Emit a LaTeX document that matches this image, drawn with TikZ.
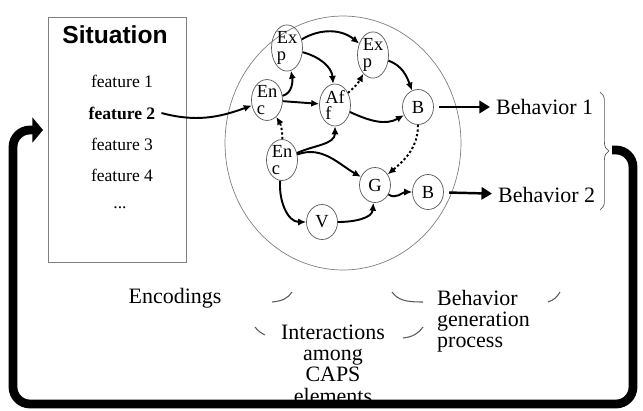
\documentclass[tikz,border=0pt]{standalone}
\usepackage{fontspec}
\setmainfont{Liberation Serif}
\setsansfont{Liberation Sans}
\usetikzlibrary{arrows.meta,shapes.geometric,decorations.pathreplacing}

\begin{document}
\begin{tikzpicture}[x=0.02cm, y=-0.02cm,
    elem/.style={draw, ellipse, gray!70!black, text=black, minimum width=0.62cm,
      minimum height=0.7cm, inner sep=0pt, align=left,
      font=\fontsize{10.5}{9.5}\selectfont},
    link/.style={-{Latex[length=4.5pt,width=4pt]}, line width=1.1pt},
    weak/.style={link, dash pattern=on 1.3pt off 1.3pt},
    bigarrow/.style={-{Triangle[length=6pt,width=7pt]}, line width=1.4pt, shorten <=3pt},
    feedback/.style={-{Triangle[length=6pt,width=14pt]}, line width=5pt},
    feat/.style={font=\fontsize{10}{12}\selectfont},
    lbl/.style={font=\fontsize{12.5}{12}\selectfont, align=center},
    bit/.style={gray!70!black, line width=0.6pt}]
  \useasboundingbox (0,0) rectangle (643,410);

  % situation and its features
  \node[draw, gray, minimum width=2.76cm, minimum height=4.9cm] (sit) at (117,139.5) {};
  \node[font=\sffamily\bfseries\fontsize{14}{14}\selectfont] (title) at (115,35) {Situation};
  \node[feat] (f1) at (122,81) {feature 1};
  \node[feat, font=\bfseries\fontsize{10}{12}\selectfont] (f2) at (122,113) {feature 2};
  \node[feat] (f3) at (122,144) {feature 3};
  \node[feat] (f4) at (122,175) {feature 4};
  \node[feat] (f5) at (120,208) {...};

  % CAPS
  \node[draw, gray, ellipse, minimum width=4.72cm, minimum height=5.08cm] (caps) at (343,143) {};
  \node[elem] (exp1) at (287,48) {Ex\\p};
  \node[elem] (exp2) at (373,55) {Ex\\p};
  \node[elem] (enc1) at (267,100) {En\\c};
  \node[elem] (aff) at (335,105) {Af\\f};
  \node[elem] (b1) at (418,107) {B};
  \node[elem] (enc2) at (282,160) {En\\c};
  \node[elem] (g) at (375,185) {G};
  \node[elem] (b2) at (428,192) {B};
  \node[elem] (v) at (322,222) {V};

  \draw[link] (f2.east) to[out=-15, in=200] (enc1);
  \draw[link] (enc1) to[out=15, in=-80] (exp1);
  \draw[link] (exp1) to[bend left=35] (exp2);
  \draw[link] (exp1) to[out=-15, in=95] (aff);
  \draw[link] (enc1) -- (aff);
  \draw[weak] (aff) to[bend right=10] (exp2);
  \draw[link] (exp2) to[out=-20, in=110] (b1);
  \draw[link] (aff) to[out=-25, in=-150] (b1);
  \draw[weak] (enc2) to[bend right=15] (enc1);
  \draw[link] (enc2) to[out=25, in=-90] (aff);
  \draw[link] (enc2) to[out=20, in=150] (g);
  \draw[link] (enc2) to[out=-95, in=180] (v);
  \draw[link] (v) to[out=0, in=-95] (g);
  \draw[weak] (b1) to[out=-90, in=40] (g);
  \draw[link] (g) to[out=-35, in=180] (b2);

  % behaviors
  \node[lbl, anchor=west] (beh1) at (490,107) {Behavior 1};
  \node[lbl, anchor=west] (beh2) at (492,195) {Behavior 2};
  \draw[bigarrow] (b1) -- (beh1);
  \draw[bigarrow] (b2) -- (beh2);
  \draw[gray!70!black, decorate, decoration={brace, amplitude=5pt}] (600,92) -- (600,210);

  % feedback loop
  \coordinate (fb) at (612,150);
  \coordinate (fbend) at (43,130);
  \draw[feedback, rounded corners=0.34cm] (fb) -| (633,404) -| (13,130) -- (fbend);

  % bottom labels
  \node[lbl] (enc) at (175,298) {Encodings};
  \node[lbl, anchor=north] (inter) at (333,319) {Interactions\\among\\CAPS\\elements};
  \node[lbl, anchor=north west, align=left] (gen) at (431,284) {Behavior\\generation\\process};
  \draw[bit] (272,302) .. controls (283,301) and (288,298) .. (292,292);
  \draw[bit] (255,327) .. controls (258,331) and (261,333) .. (265,335);
  \draw[bit] (392,292) .. controls (398,300) and (405,302) .. (423,302);
  \draw[bit] (403,338) .. controls (413,337) and (419,333) .. (423,327);
  \draw[bit] (548,302) .. controls (554,300) and (557,297) .. (560,292);
\end{tikzpicture}
\end{document}
